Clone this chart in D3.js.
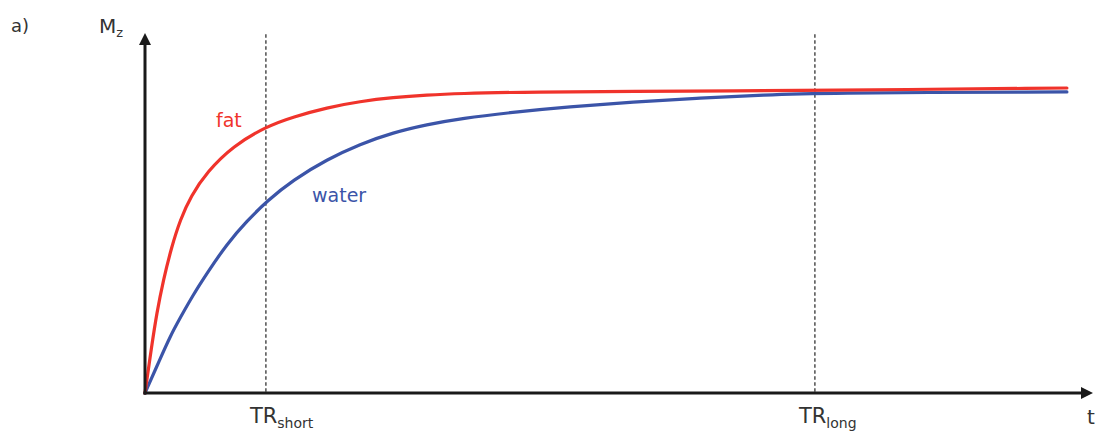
<!DOCTYPE html>
<html>
<head>
<meta charset="utf-8">
<script src="https://cdn.jsdelivr.net/npm/d3@7"></script>
<style>
  html, body { margin: 0; padding: 0; background: #fff; }
  svg { display: block; }
  text { font-family: "DejaVu Sans", "Open Sans", sans-serif; }
</style>
</head>
<body>
<svg id="chart" width="1095" height="434"></svg>
<script>
// Longitudinal magnetisation recovery, time in ms, Mz relative to M0
const fatTime   = [0, 22, 39, 61, 89, 117, 153, 207, 293, 407, 493, 607, 717, 827, 940, 1050, 1250, 1850, 2233, 3073];
const fatMz     = [0, 0.152, 0.261, 0.370, 0.480, 0.567, 0.646, 0.725, 0.810, 0.875, 0.905, 0.936, 0.956, 0.969, 0.977, 0.982, 0.987, 0.990, 0.992, 1.000];
const waterTime = [0, 50, 83, 117, 160, 207, 273, 340, 407, 493, 607, 717, 827, 940, 1050, 1250, 1407, 1627, 1850, 2073, 2227, 3073];
const waterMz   = [0, 0.111, 0.184, 0.246, 0.321, 0.393, 0.489, 0.564, 0.630, 0.698, 0.766, 0.816, 0.854, 0.880, 0.900, 0.923, 0.938, 0.954, 0.967, 0.977, 0.984, 0.987];
const trValues  = [403, 2233];
const trMain    = ["TR", "TR"];
const trSub     = ["short", "long"];

const svg = d3.select("#chart");

const x = d3.scaleLinear().domain([0, 3160]).range([145, 1093]);
const y = d3.scaleLinear().domain([0, 1]).range([393, 88]);
const yTop = 1.18;

const ink = "#1a1a1a";

// TR markers
svg.selectAll("line.tr")
  .data(trValues)
  .join("line")
  .attr("class", "tr")
  .attr("x1", d => x(d)).attr("x2", d => x(d))
  .attr("y1", y(1.176)).attr("y2", y(0))
  .attr("stroke", "#333")
  .attr("stroke-width", 1.3)
  .attr("stroke-dasharray", "3.5,2.5");

// Recovery curves (B-spline through the sampled readings)
const line = d3.line()
  .x(d => x(d[0]))
  .y(d => y(d[1]))
  .curve(d3.curveBasis);

const waterPts = d3.zip(waterTime, waterMz);
const fatPts = d3.zip(fatTime, fatMz);

svg.append("path")
  .attr("d", line(waterPts))
  .attr("fill", "none")
  .attr("stroke", "#3b54a8")
  .attr("stroke-width", 3.2)
  .attr("stroke-linecap", "round");

svg.append("path")
  .attr("d", line(fatPts))
  .attr("fill", "none")
  .attr("stroke", "#f0332b")
  .attr("stroke-width", 3.2)
  .attr("stroke-linecap", "round");

// Axes with arrow heads
const x0 = x(0), y0 = y(0), xEnd = x.range()[1], yEnd = y(yTop);
svg.append("line")
  .attr("x1", x0).attr("x2", x0)
  .attr("y1", y0 + 1.5).attr("y2", yEnd + 10)
  .attr("stroke", ink).attr("stroke-width", 3);
svg.append("line")
  .attr("x1", x0 - 1.5).attr("x2", xEnd - 10)
  .attr("y1", y0).attr("y2", y0)
  .attr("stroke", ink).attr("stroke-width", 3);
svg.append("path")
  .attr("d", `M${x0},${yEnd} L${x0 - 6},${yEnd + 12} L${x0 + 6},${yEnd + 12} Z`)
  .attr("fill", ink);
svg.append("path")
  .attr("d", `M${xEnd},${y0} L${xEnd - 12},${y0 - 6} L${xEnd - 12},${y0 + 6} Z`)
  .attr("fill", ink);

// Axis titles
const mz = svg.append("text")
  .attr("x", 99).attr("y", 33)
  .attr("fill", "#333")
  .attr("font-size", 20);
mz.append("tspan").text("M");
mz.append("tspan").attr("font-size", 13).attr("dy", 4).text("z");

svg.append("text")
  .attr("x", 1087).attr("y", 424)
  .attr("fill", "#333")
  .attr("font-size", 20)
  .text("t");

svg.append("text")
  .attr("x", 11).attr("y", 32)
  .attr("fill", "#333")
  .attr("font-size", 18)
  .text("a)");

// TR labels
const trLab = svg.selectAll("text.trlab")
  .data(trValues)
  .join("text")
  .attr("class", "trlab")
  .attr("x", d => x(d) - 16)
  .attr("y", 423)
  .attr("fill", "#333")
  .attr("font-size", 21);
trLab.append("tspan").text((d, i) => trMain[i]);
trLab.append("tspan").attr("font-size", 14).attr("dy", 5).text((d, i) => trSub[i]);

// Series labels
svg.append("text")
  .attr("x", 216).attr("y", 127)
  .attr("fill", "#f0332b")
  .attr("font-size", 19)
  .text("fat");
svg.append("text")
  .attr("x", 312).attr("y", 202)
  .attr("fill", "#3b54a8")
  .attr("font-size", 19)
  .text("water");
</script>
</body>
</html>
